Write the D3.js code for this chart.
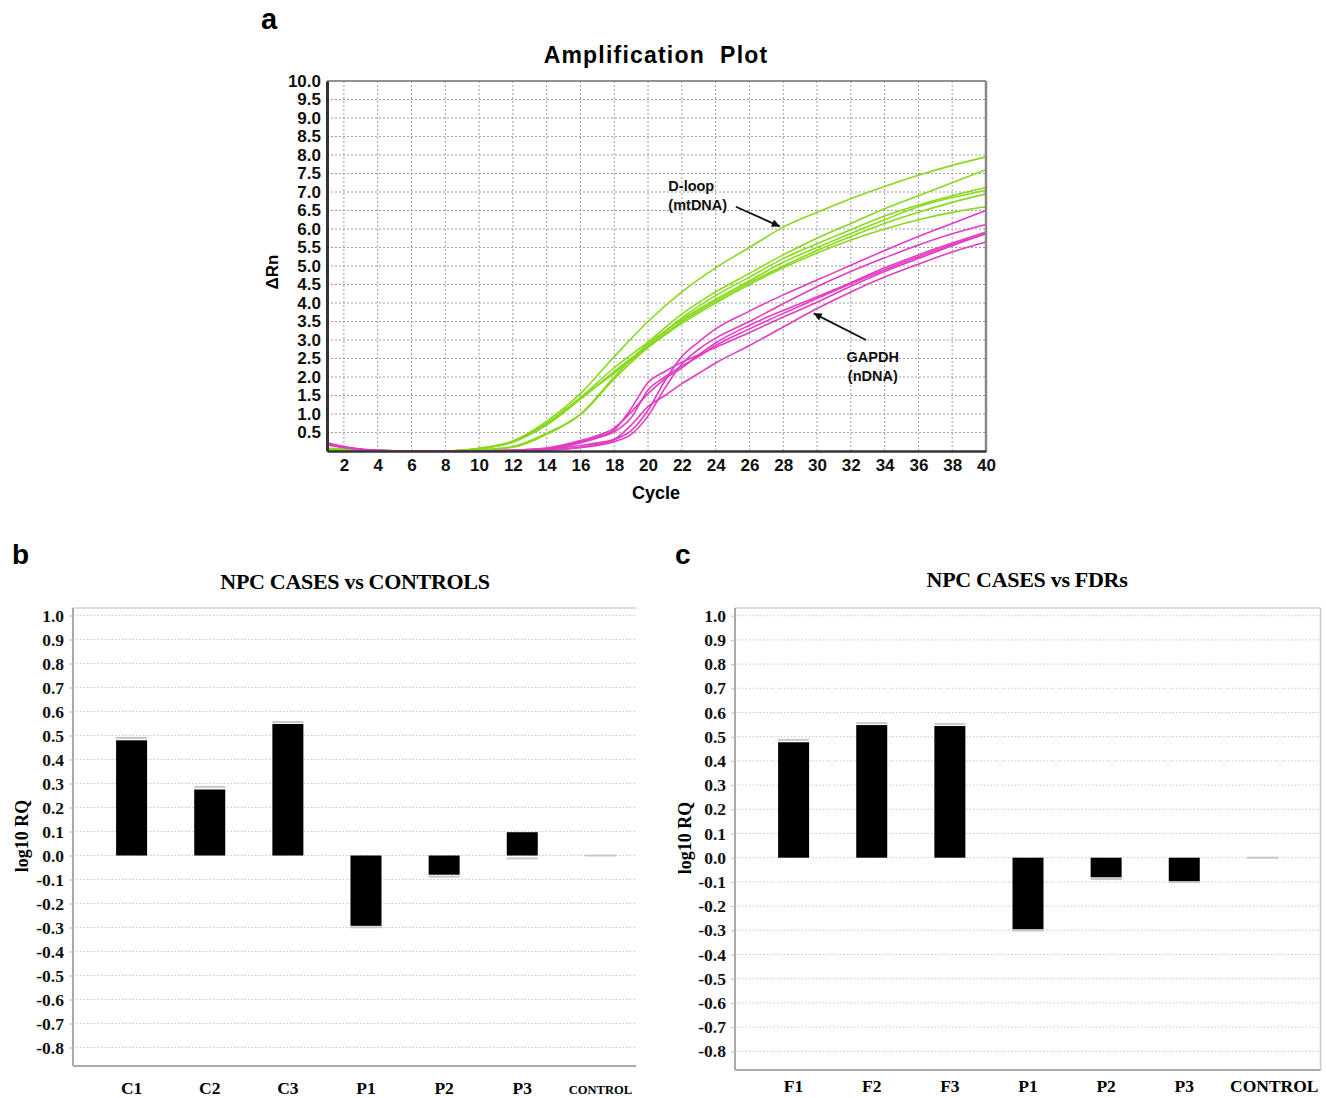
<!DOCTYPE html>
<html>
<head>
<meta charset="utf-8">
<script src="https://cdnjs.cloudflare.com/ajax/libs/d3/7.8.5/d3.min.js"></script>
<style>
  body { margin: 0; background: #fff; }
</style>
</head>
<body>
<div id="fig"></div>
<script>
// ---------- panel a : amplification plot ----------
var greenCycles = [1, 2, 4, 6, 8, 10, 12, 14, 16, 18, 20, 22, 24, 26, 28, 30, 32, 34, 36, 38, 40];
var dloop1 = [0.06, 0.04, 0.01, 0, 0, 0.07, 0.27, 0.80, 1.55, 2.55, 3.50, 4.30, 4.95, 5.50, 6.05, 6.45, 6.82, 7.15, 7.45, 7.72, 7.95];
var dloop2 = [0.08, 0.05, 0.01, 0, 0, 0.07, 0.26, 0.75, 1.45, 2.25, 2.95, 3.70, 4.30, 4.80, 5.30, 5.75, 6.15, 6.55, 6.90, 7.25, 7.60];
var dloop3 = [0.05, 0.03, 0.01, 0, 0, 0.06, 0.24, 0.70, 1.40, 2.15, 2.85, 3.60, 4.20, 4.70, 5.20, 5.60, 5.98, 6.35, 6.65, 6.90, 7.12];
var dloop4 = [0.04, 0.02, 0, 0, 0, 0.03, 0.12, 0.48, 1.00, 2.00, 2.90, 3.55, 4.10, 4.60, 5.10, 5.50, 5.88, 6.25, 6.60, 6.85, 7.05];
var dloop5 = [0.04, 0.02, 0, 0, 0, 0.03, 0.10, 0.45, 0.98, 1.95, 2.80, 3.50, 4.05, 4.55, 5.00, 5.42, 5.80, 6.15, 6.45, 6.72, 6.95];
var dloop6 = [0.06, 0.04, 0.01, 0, 0, 0.06, 0.25, 0.72, 1.42, 2.10, 2.80, 3.45, 4.00, 4.50, 4.95, 5.35, 5.70, 6.00, 6.25, 6.45, 6.60];

var magentaCycles = [1, 2, 3, 4, 6, 8, 10, 12, 14, 16, 17, 18, 19, 20, 21, 22, 23, 24, 26, 28, 30, 32, 34, 36, 38, 40];
var gapdh1 = [0.22, 0.12, 0.05, 0.01, 0, 0, 0, 0.01, 0.03, 0.10, 0.18, 0.30, 0.55, 1.10, 1.90, 2.55, 2.95, 3.30, 3.78, 4.22, 4.62, 5.02, 5.42, 5.80, 6.15, 6.50];
var gapdh2 = [0.20, 0.11, 0.05, 0.01, 0, 0, 0, 0.01, 0.03, 0.09, 0.15, 0.25, 0.45, 0.95, 1.70, 2.35, 2.75, 3.05, 3.50, 3.98, 4.44, 4.85, 5.22, 5.57, 5.87, 6.12];
var gapdh3 = [0.18, 0.10, 0.04, 0.01, 0, 0, 0, 0.02, 0.08, 0.28, 0.42, 0.62, 1.05, 1.55, 1.95, 2.25, 2.60, 2.92, 3.40, 3.80, 4.17, 4.55, 4.95, 5.30, 5.62, 5.92];
var gapdh4 = [0.19, 0.10, 0.04, 0.01, 0, 0, 0, 0.02, 0.07, 0.25, 0.38, 0.57, 1.15, 1.85, 2.15, 2.40, 2.60, 2.80, 3.20, 3.62, 4.02, 4.45, 4.85, 5.20, 5.55, 5.87];
var gapdh5 = [0.16, 0.09, 0.03, 0, 0, 0, 0, 0.01, 0.05, 0.15, 0.22, 0.32, 0.70, 1.20, 1.50, 1.82, 2.10, 2.38, 2.85, 3.35, 3.85, 4.30, 4.70, 5.05, 5.38, 5.65];
var gapdh6 = [0.20, 0.10, 0.04, 0.01, 0, 0, 0, 0.02, 0.06, 0.22, 0.35, 0.52, 0.90, 1.65, 2.00, 2.30, 2.55, 2.85, 3.30, 3.72, 4.12, 4.52, 4.90, 5.25, 5.58, 5.88];

var rnTicks = [0.5, 1.0, 1.5, 2.0, 2.5, 3.0, 3.5, 4.0, 4.5, 5.0, 5.5, 6.0, 6.5, 7.0, 7.5, 8.0, 8.5, 9.0, 9.5, 10.0];
var cycleTicks = [2, 4, 6, 8, 10, 12, 14, 16, 18, 20, 22, 24, 26, 28, 30, 32, 34, 36, 38, 40];

// ---------- panels b and c : log10 RQ ----------
var samplesB = ["C1", "C2", "C3", "P1", "P2", "P3", "CONTROL"];
var rqB      = [0.48, 0.275, 0.548, -0.293, -0.080, 0.097, 0];
var rqCapB   = [0.49, 0.286, 0.556, -0.299, -0.088, -0.012, 0];

var samplesC = ["F1", "F2", "F3", "P1", "P2", "P3", "CONTROL"];
var rqC      = [0.477, 0.548, 0.544, -0.296, -0.081, -0.099, 0];
var rqCapC   = [0.487, 0.556, 0.552, -0.301, -0.088, -0.101, 0];

var rqTicks = [1.0, 0.9, 0.8, 0.7, 0.6, 0.5, 0.4, 0.3, 0.2, 0.1, 0.0, -0.1, -0.2, -0.3, -0.4, -0.5, -0.6, -0.7, -0.8];

var sans = "'Liberation Sans', Arial, Helvetica, sans-serif";
var serif = "'Liberation Serif', 'Times New Roman', Times, serif";
var green = "#88d91e", magenta = "#e23cc3";

// plain hyphen for negatives, like the original software
var fmt1 = function(d) { return d.toFixed(1); };

var svg = d3.select("#fig").append("svg")
    .attr("width", 1326).attr("height", 1098)
    .style("background", "#fff");

svg.append("defs").append("marker")
    .attr("id", "arrow")
    .attr("viewBox", "0 0 10 10")
    .attr("refX", 10).attr("refY", 5)
    .attr("markerWidth", 11).attr("markerHeight", 8)
    .attr("markerUnits", "userSpaceOnUse")
    .attr("orient", "auto")
    .append("path").attr("d", "M0,0L10,5L0,10Z").attr("fill", "#111");

// ===== panel a =====
var A = {left: 327, right: 986, top: 81, bottom: 451};
var x = d3.scaleLinear().domain([1, 40]).range([A.left, A.right]);
var y = d3.scaleLinear().domain([0, 10]).range([A.bottom, A.top]);
var ga = svg.append("g");

// grid
ga.selectAll(".hg").data(rnTicks).enter().append("line")
    .attr("x1", A.left).attr("x2", A.right)
    .attr("y1", function(d) { return y(d); }).attr("y2", function(d) { return y(d); })
    .attr("stroke", "#9c9c9c").attr("stroke-width", 1).attr("stroke-dasharray", "2,2");
ga.selectAll(".vg").data(cycleTicks).enter().append("line")
    .attr("y1", A.top).attr("y2", A.bottom)
    .attr("x1", function(d) { return x(d); }).attr("x2", function(d) { return x(d); })
    .attr("stroke", "#9c9c9c").attr("stroke-width", 1).attr("stroke-dasharray", "2,2");

// curves
var line = d3.line().curve(d3.curveMonotoneX)
    .x(function(d) { return x(d[0]); })
    .y(function(d) { return y(d[1]); });
[dloop1, dloop2, dloop3, dloop4, dloop5, dloop6].forEach(function(s) {
  ga.append("path").attr("d", line(d3.zip(greenCycles, s)))
    .attr("fill", "none").attr("stroke", green).attr("stroke-width", 1.6);
});
[gapdh1, gapdh2, gapdh3, gapdh4, gapdh5, gapdh6].forEach(function(s) {
  ga.append("path").attr("d", line(d3.zip(magentaCycles, s)))
    .attr("fill", "none").attr("stroke", magenta).attr("stroke-width", 1.6);
});

// frame
ga.append("line").attr("x1", A.left).attr("x2", A.right).attr("y1", A.top).attr("y2", A.top)
    .attr("stroke", "#777").attr("stroke-width", 1.5);
ga.append("line").attr("x1", A.right).attr("x2", A.right).attr("y1", A.top).attr("y2", A.bottom)
    .attr("stroke", "#888").attr("stroke-width", 2.5);

// axes
var yAxA = ga.append("g").attr("transform", "translate(" + A.left + ",0)")
    .call(d3.axisLeft(y).tickValues(rnTicks).tickSize(0).tickPadding(6).tickFormat(fmt1));
var xAxA = ga.append("g").attr("transform", "translate(0," + A.bottom + ")")
    .call(d3.axisBottom(x).tickValues(cycleTicks).tickSize(0).tickPadding(8));
[yAxA, xAxA].forEach(function(g) {
  g.selectAll("text").style("font-family", sans).style("font-weight", "bold")
   .style("font-size", "17px").attr("fill", "#111");
});
yAxA.select(".domain").attr("stroke", "#333").attr("stroke-width", 3);
xAxA.select(".domain").attr("stroke", "#333").attr("stroke-width", 2.5);

ga.append("text").attr("x", 269).attr("y", 29).attr("text-anchor", "middle")
    .style("font-family", sans).style("font-weight", "bold").style("font-size", "29px").text("a");
ga.append("text").attr("x", 656).attr("y", 63).attr("text-anchor", "middle")
    .style("font-family", sans).style("font-weight", "bold").style("font-size", "23px")
    .style("letter-spacing", "1.2px").style("white-space", "pre").text("Amplification  Plot");
ga.append("text").attr("transform", "translate(278,272) rotate(-90)").attr("text-anchor", "middle")
    .style("font-family", sans).style("font-weight", "bold").style("font-size", "17px").text("ΔRn");
ga.append("text").attr("x", 656).attr("y", 499).attr("text-anchor", "middle")
    .style("font-family", sans).style("font-weight", "bold").style("font-size", "18px").text("Cycle");

// annotations
function note(lines, cx, cy, anchor) {
  var t = ga.append("text").attr("x", x(cx)).attr("y", y(cy)).attr("text-anchor", anchor)
      .style("font-family", sans).style("font-weight", "bold").style("font-size", "14.5px").attr("fill", "#111");
  lines.forEach(function(s, i) {
    t.append("tspan").attr("x", x(cx)).attr("dy", i ? 19 : 0).text(s);
  });
}
note(["D-loop", "(mtDNA)"], 21.2, 7.03, "start");
note(["GAPDH", "(nDNA)"], 33.3, 2.4, "middle");
ga.append("line").attr("x1", x(25.2)).attr("y1", y(6.6)).attr("x2", x(27.8)).attr("y2", y(6.07))
    .attr("stroke", "#111").attr("stroke-width", 1.8).attr("marker-end", "url(#arrow)");
ga.append("line").attr("x1", x(32.9)).attr("y1", y(3.0)).attr("x2", x(29.8)).attr("y2", y(3.72))
    .attr("stroke", "#111").attr("stroke-width", 1.8).attr("marker-end", "url(#arrow)");

// ===== panels b, c =====
function drawRQ(o) {
  var g = svg.append("g");
  var xs = d3.scalePoint().domain(o.samples).range([o.left, o.left + 586]).padding(0.75);
  var ys = d3.scaleLinear().domain([-0.8, 1.0]).range(o.yRange);
  var bw = 31;

  g.selectAll(".grid").data(rqTicks).enter().append("line")
      .attr("x1", o.left).attr("x2", o.right)
      .attr("y1", function(d) { return ys(d); }).attr("y2", function(d) { return ys(d); })
      .attr("stroke", "#c8c8c8").attr("stroke-width", 1).attr("stroke-dasharray", "1.5,2");

  // frame
  g.append("line").attr("x1", o.left).attr("x2", o.right).attr("y1", o.top).attr("y2", o.top)
      .attr("stroke", "#d2d2d2").attr("stroke-width", 1.5);
  if (o.rightBorder) {
    g.append("line").attr("x1", o.right).attr("x2", o.right).attr("y1", o.top).attr("y2", o.bottom)
        .attr("stroke", "#c8c8c8").attr("stroke-width", 1.5);
  }
  g.append("line").attr("x1", o.left).attr("x2", o.right).attr("y1", o.bottom).attr("y2", o.bottom)
      .attr("stroke", "#aaa").attr("stroke-width", 2);

  var yAx = g.append("g").attr("transform", "translate(" + o.left + ",0)")
      .call(d3.axisLeft(ys).tickValues(rqTicks).tickSize(4).tickPadding(5).tickFormat(fmt1));
  yAx.select(".domain").attr("d", "M0," + o.top + "V" + o.bottom).attr("stroke", "#aaa").attr("stroke-width", 2);
  yAx.selectAll(".tick line").attr("stroke", "#bbb");
  yAx.selectAll("text").style("font-family", serif).style("font-weight", "bold")
      .style("font-size", "17.5px").attr("fill", "#111");

  // bars
  g.selectAll(".bar").data(o.samples).enter().append("rect")
      .attr("x", function(d) { return xs(d) - bw / 2; })
      .attr("width", bw)
      .attr("y", function(d, i) { return ys(Math.max(0, o.values[i])); })
      .attr("height", function(d, i) { return Math.abs(ys(o.values[i]) - ys(0)); })
      .attr("fill", "#000");
  g.selectAll(".cap").data(o.samples).enter().append("line")
      .attr("x1", function(d) { return xs(d) - bw / 2; })
      .attr("x2", function(d) { return xs(d) + bw / 2; })
      .attr("y1", function(d, i) { return ys(o.caps[i]); })
      .attr("y2", function(d, i) { return ys(o.caps[i]); })
      .attr("stroke", "#c8c8c8").attr("stroke-width", 2);

  // category labels (last one is pushed against the frame edge in panel c)
  g.selectAll(".cat").data(o.samples).enter().append("text")
      .attr("x", function(d) { return xs(d); })
      .attr("y", o.labelY)
      .attr("text-anchor", "middle")
      .style("font-family", serif).style("font-weight", "bold")
      .style("font-size", function(d) { return d === "CONTROL" ? o.controlSize : "17.5px"; })
      .text(function(d) { return d; })
      .each(function(d) {
        if (d === "CONTROL" && o.controlToEdge) {
          d3.select(this).attr("text-anchor", "end").attr("x", o.right - 2);
        }
      });

  g.append("text").attr("transform", "translate(" + o.yLabelX + "," + o.yLabelY + ") rotate(-90)")
      .attr("text-anchor", "middle")
      .style("font-family", serif).style("font-weight", "bold").style("font-size", "18px").text("log10 RQ");
  g.append("text").attr("x", o.titleX).attr("y", o.titleY).attr("text-anchor", "middle")
      .style("font-family", serif).style("font-weight", "bold").style("font-size", "22px")
      .style("letter-spacing", "-0.3px").text(o.title);
  g.append("text").attr("x", o.letterX).attr("y", 564)
      .style("font-family", sans).style("font-weight", "bold").style("font-size", "28px").text(o.letter);
}

drawRQ({
  samples: samplesB, values: rqB, caps: rqCapB,
  left: 73, right: 636, top: 608, bottom: 1066, yRange: [1047.5, 615.5],
  rightBorder: false, labelY: 1094, controlSize: "12.5px", controlToEdge: false,
  yLabelX: 28, yLabelY: 836, titleX: 355, titleY: 589, title: "NPC CASES vs CONTROLS",
  letter: "b", letterX: 12
});
drawRQ({
  samples: samplesC, values: rqC, caps: rqCapC,
  left: 735, right: 1320.5, top: 608, bottom: 1070, yRange: [1051.3, 615.7],
  rightBorder: true, labelY: 1092, controlSize: "17.5px", controlToEdge: true,
  yLabelX: 691, yLabelY: 838, titleX: 1027, titleY: 587, title: "NPC CASES vs FDRs",
  letter: "c", letterX: 675
});
</script>
</body>
</html>
